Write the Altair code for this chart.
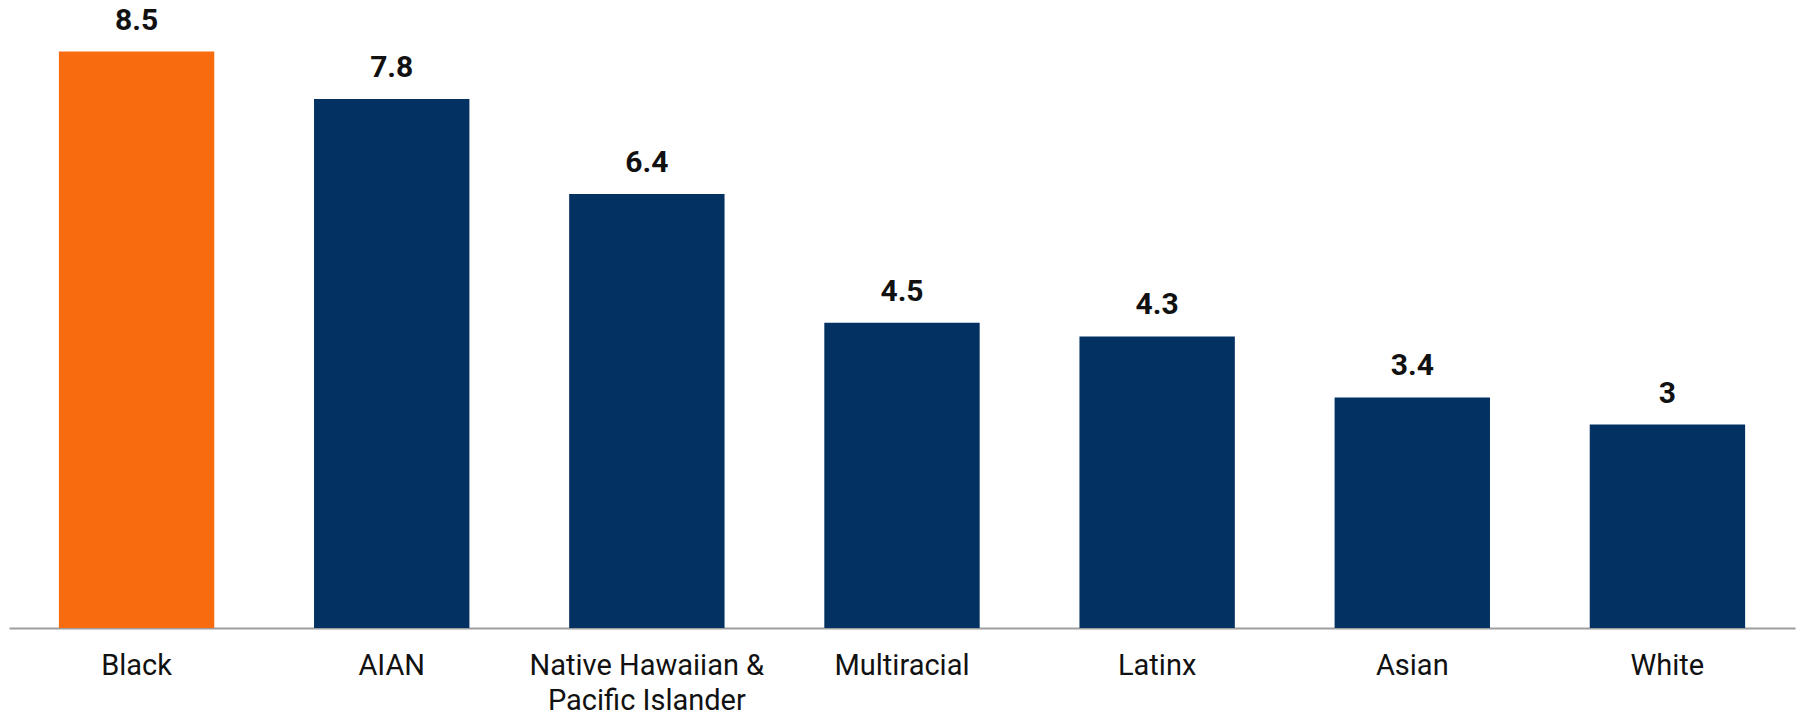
import altair as alt
import pandas as pd

categories = ["Black", "AIAN", "Native Hawaiian & Pacific Islander", "Multiracial", "Latinx", "Asian", "White"]
values = [8.5, 7.8, 6.4, 4.5, 4.3, 3.4, 3.0]
labels = ["8.5", "7.8", "6.4", "4.5", "4.3", "3.4", "3"]
highlight = ["Black"]

df = pd.DataFrame({"category": categories, "value": values, "label": labels})
df["group"] = ["hi" if c in highlight else "base" for c in categories]

x = alt.X(
    "category:N",
    sort=categories,
    scale=alt.Scale(paddingInner=0.391, paddingOuter=0.1955),
    axis=alt.Axis(
        title=None,
        ticks=False,
        labelAngle=0,
        labelFont="Roboto",
        labelFontSize=29,
        labelColor="#111111",
        labelBaseline="alphabetic",
        labelPadding=46,
        labelLineHeight=35,
        labelLimit=400,
        labelExpr="datum.label == 'Native Hawaiian & Pacific Islander' ? ['Native Hawaiian &', 'Pacific Islander'] : datum.label",
        domainColor="#9e9e9e",
        domainWidth=2,
        grid=False,
    ),
)
y = alt.Y(
    "value:Q",
    scale=alt.Scale(domain=[0, 9.26], nice=False, zero=True),
    axis=None,
)

bars = alt.Chart(df).mark_bar().encode(
    x=x,
    y=y,
    color=alt.Color(
        "group:N",
        scale=alt.Scale(domain=["hi", "base"], range=["#F96B0F", "#033162"]),
        legend=None,
    ),
)

text = alt.Chart(df).mark_text(
    font="Roboto", fontSize=30, fontWeight="bold", color="#111111",
    baseline="alphabetic", dy=-22,
).encode(
    x=alt.X("category:N", sort=categories),
    y=y,
    text="label:N",
)

chart = (bars + text).properties(
    width=1786,
    height=628,
    background="white",
    autosize=alt.AutoSizeParams(type="none"),
    padding={"left": 9, "top": 0, "right": 6, "bottom": 84},
).configure_view(stroke=None)

chart.save("out.html", embed_options={"renderer": "svg", "actions": False})
